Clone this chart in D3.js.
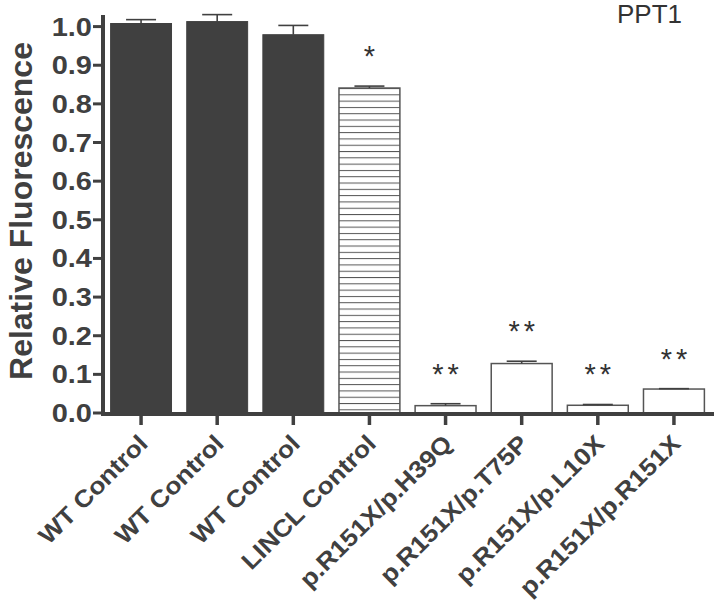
<!DOCTYPE html>
<html>
<head>
<meta charset="utf-8">
<script src="https://cdn.jsdelivr.net/npm/d3@7"></script>
<style>
  html, body { margin: 0; padding: 0; background: #fff; }
  svg { display: block; }
</style>
</head>
<body>
<div id="chart"></div>
<script>
// ---- data ----
const categories = ["WT Control", "WT Control", "WT Control", "LINCL Control",
  "p.R151X/p.H39Q", "p.R151X/p.T75P", "p.R151X/p.L10X", "p.R151X/p.R151X"];
const means = [1.008, 1.013, 0.979, 0.841, 0.019, 0.128, 0.020, 0.062];
const errors = [0.010, 0.018, 0.024, 0.005, 0.005, 0.006, 0.002, 0.001];
const fillTypes = ["solid", "solid", "solid", "hatch", "open", "open", "open", "open"];
const significance = ["", "", "", "*", "**", "**", "**", "**"];
const yTicks = [0.0, 0.1, 0.2, 0.3, 0.4, 0.5, 0.6, 0.7, 0.8, 0.9, 1.0];
const yTitle = "Relative Fluorescence";
const panelTitle = "PPT1";

// ---- layout ----
const W = 720, H = 601;
const ink = "#404040";
const font = "Liberation Sans, Arial, sans-serif";
const svg = d3.select("#chart").append("svg")
  .attr("width", W).attr("height", H);

const x0 = 103, x1 = 712, yBase = 413, yTop = 15;
const x = d3.scaleBand().domain(d3.range(categories.length))
  .range([x0, x1]).paddingInner(0.2).paddingOuter(0.1);
const y = d3.scaleLinear().domain([0, 1.03]).range([yBase, yTop]);
const cx = i => x(i) + x.bandwidth() / 2;

// hatch pattern
const defs = svg.append("defs");
const pat = defs.append("pattern").attr("id", "hatch")
  .attr("patternUnits", "userSpaceOnUse")
  .attr("x", 0).attr("y", y(means[3]))
  .attr("width", 8).attr("height", 6.3);
pat.append("rect").attr("width", 8).attr("height", 6.3).attr("fill", "#fff");
pat.append("line").attr("x1", 0).attr("x2", 8).attr("y1", 0.5).attr("y2", 0.5)
  .attr("stroke", "#555").attr("stroke-width", 1);

// bars
svg.append("g").selectAll("rect").data(means).join("rect")
  .attr("x", (d, i) => x(i))
  .attr("y", d => y(d))
  .attr("width", x.bandwidth())
  .attr("height", d => y(0) - y(d))
  .attr("fill", (d, i) => fillTypes[i] === "solid" ? ink : fillTypes[i] === "hatch" ? "url(#hatch)" : "#fff")
  .attr("stroke", (d, i) => fillTypes[i] === "solid" ? ink : "#555")
  .attr("stroke-width", (d, i) => fillTypes[i] === "solid" ? 1 : 1.5);

// error bars
const eb = svg.append("g").attr("stroke", ink).attr("stroke-width", 1.6);
means.forEach((m, i) => {
  eb.append("line").attr("x1", cx(i)).attr("x2", cx(i)).attr("y1", y(m)).attr("y2", y(m + errors[i]));
  eb.append("line").attr("x1", cx(i) - 15).attr("x2", cx(i) + 15)
    .attr("y1", y(m + errors[i])).attr("y2", y(m + errors[i]));
});

// significance stars
svg.append("g").selectAll("text").data(significance).join("text")
  .attr("x", (d, i) => cx(i) + (d.length > 1 ? 2 : 0))
  .attr("y", (d, i) => y(means[i] + errors[i]) - 34 + 14)
  .attr("text-anchor", "middle")
  .attr("font-family", font)
  .attr("font-size", 29)
  .attr("letter-spacing", d => d.length > 1 ? 4 : 0)
  .attr("fill", "#333")
  .text(d => d);

// y axis
const yAxis = svg.append("g");
yAxis.append("line").attr("x1", x0).attr("x2", x0).attr("y1", yBase + 2).attr("y2", yTop)
  .attr("stroke", ink).attr("stroke-width", 4);
yAxis.selectAll(".yt").data(yTicks).join("line")
  .attr("x1", x0 - 10).attr("x2", x0).attr("y1", d => y(d)).attr("y2", d => y(d))
  .attr("stroke", ink).attr("stroke-width", 3);
yAxis.selectAll("text").data(yTicks).join("text")
  .attr("transform", d => `translate(${x0 - 11}, ${y(d)}) scale(1.16, 1)`)
  .attr("dy", "0.36em")
  .attr("text-anchor", "end")
  .attr("font-family", font)
  .attr("font-weight", "bold")
  .attr("font-size", 25)
  .attr("fill", ink)
  .text(d => d3.format(".1f")(d));

// y title
svg.append("text")
  .attr("transform", `translate(32, 211) rotate(-90)`)
  .attr("text-anchor", "middle")
  .attr("font-family", font)
  .attr("font-weight", "bold")
  .attr("font-size", 32)
  .attr("fill", ink)
  .text(yTitle);

// x axis
const xAxis = svg.append("g");
xAxis.append("line").attr("x1", x0 - 2).attr("x2", x1 + 2).attr("y1", yBase + 1).attr("y2", yBase + 1)
  .attr("stroke", ink).attr("stroke-width", 4);
xAxis.selectAll(".xt").data(categories).join("line")
  .attr("x1", (d, i) => cx(i)).attr("x2", (d, i) => cx(i))
  .attr("y1", yBase).attr("y2", yBase + 12)
  .attr("stroke", ink).attr("stroke-width", 3.5);
xAxis.selectAll("text").data(categories).join("text")
  .attr("transform", (d, i) => `translate(${cx(i) + 8}, 445) rotate(-45) scale(1.1, 1)`)
  .attr("text-anchor", "end")
  .attr("font-family", font)
  .attr("font-weight", "bold")
  .attr("font-size", 24)
  .attr("fill", ink)
  .text(d => d);

// panel title
svg.append("text")
  .attr("x", 617).attr("y", 23)
  .attr("font-family", font)
  .attr("font-size", 26)
  .attr("fill", "#333")
  .text(panelTitle);
</script>
</body>
</html>
